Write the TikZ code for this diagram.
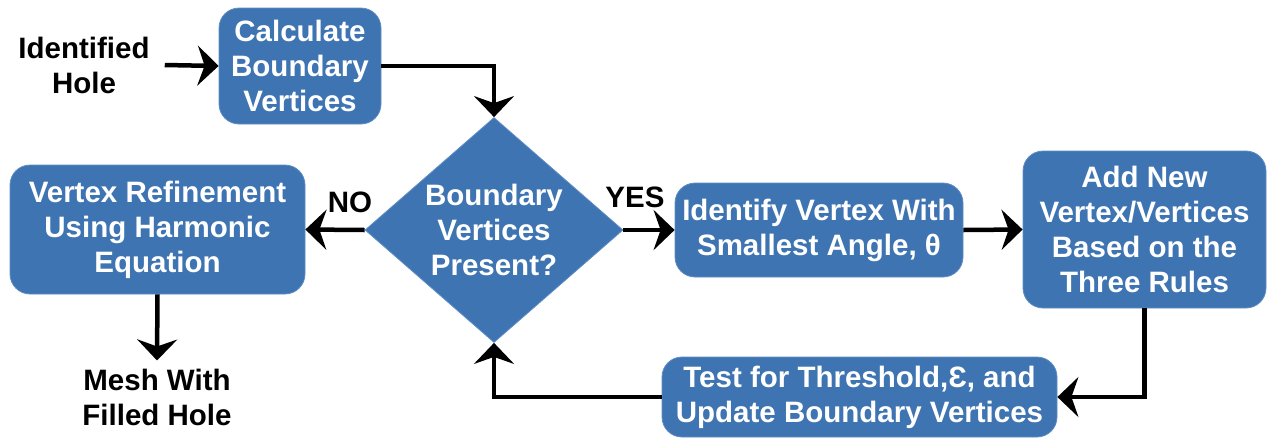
\documentclass[tikz,border=0pt]{standalone}
\usepackage{fontspec}
\setmainfont{Liberation Sans}
\usetikzlibrary{shapes.geometric,arrows.meta}
\definecolor{boxblue}{RGB}{62,116,178}
\definecolor{boxedge}{RGB}{96,142,196}
\tikzset{
  blk/.style={fill=boxblue, draw=boxedge, line width=0.8pt, rounded corners=20pt,
    text=white, align=center, inner sep=0pt,
    font=\fontsize{29.5}{35}\selectfont\bfseries},
  dec/.style={diamond, fill=boxblue, draw=boxedge, line width=0.8pt, text=white,
    align=center, inner sep=0pt, aspect=1.147,
    font=\fontsize{29.5}{35}\selectfont\bfseries},
  plain/.style={text=black, align=center, inner sep=0pt,
    font=\fontsize{29.5}{35}\selectfont\bfseries},
  arrowtip/.tip={Stealth[length=21pt,width=40pt,inset=7pt]},
  arr/.style={line width=4.5pt, -arrowtip}
}
\begin{document}
\begin{tikzpicture}[x=1pt,y=-1pt]
\useasboundingbox (0,0) rectangle (1269,440);
\node[plain] (ident) at (84,65) {Identified\\Hole};
\node[blk, minimum width=162pt, minimum height=116pt] (calc) at (300,66) {Calculate\\Boundary\\Vertices};
\node[dec, minimum width=258pt, minimum height=225pt] (dia) at (494,230) {Boundary\\Vertices\\Present?};
\node[blk, minimum width=288pt, minimum height=94pt] (iden) at (819,230) {Identify Vertex With\\Smallest Angle, θ};
\node[blk, minimum width=243pt, minimum height=157pt] (add) at (1144.5,229.5) {Add New\\Vertex/Vertices\\Based on the\\Three Rules};
\node[blk, minimum width=395pt, minimum height=80pt] (test) at (859.5,397) {Test for Threshold,Ɛ, and\\Update Boundary Vertices};
\node[blk, minimum width=295pt, minimum height=129pt] (vert) at (157.5,229.5) {Vertex Refinement\\Using Harmonic\\Equation};
\node[plain] (mesh) at (157,397) {Mesh With\\Filled Hole};
\node[plain] (no) at (350,202) {NO};
\node[plain] (yes) at (635,197) {YES};

\draw[arr] ([xshift=15pt]ident.east) -- (calc.west);
\draw[arr] (calc.east) -| (dia.north);
\draw[arr] (dia.east) -- (iden.west);
\draw[arr] (iden.east) -- (add.west);
\draw[arr] (add.south) |- (test.east);
\draw[arr] (test.west) -| (dia.south);
\draw[arr] (dia.west) -- (vert.east);
\draw[arr] (vert.south) -- ([yshift=8pt]mesh.north);
\end{tikzpicture}
\end{document}
